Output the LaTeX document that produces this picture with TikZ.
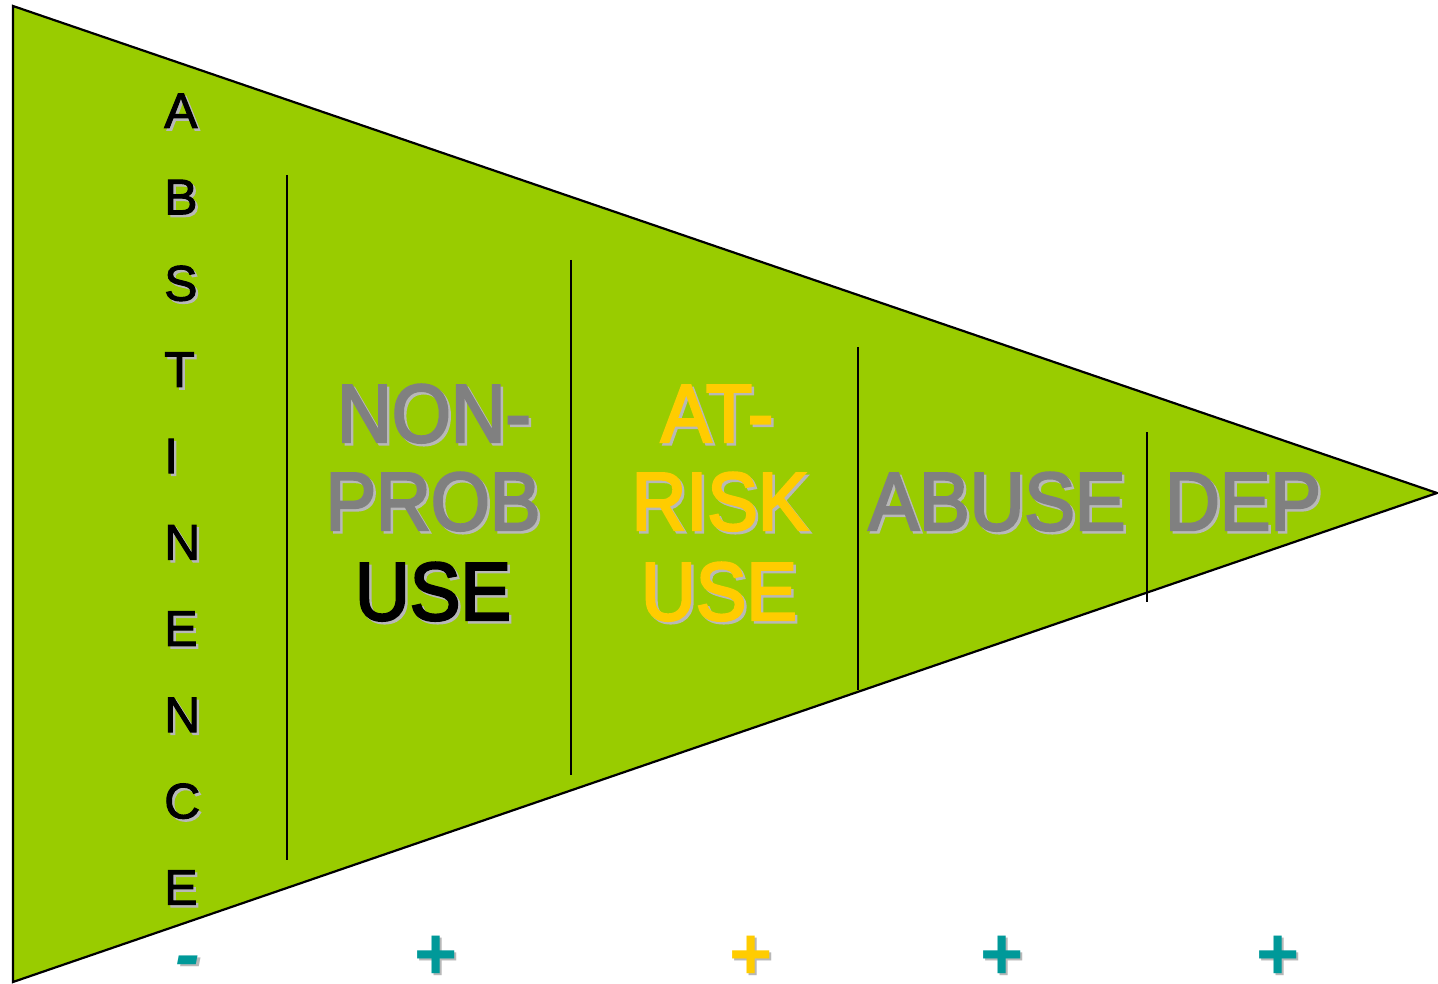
\documentclass[tikz,border=0pt]{standalone}
\usepackage{fontspec}
\usepackage{tikz}
\setmainfont{Liberation Sans}
\newfontfamily\narrowfont[FakeStretch=0.92, FakeBold=3]{Liberation Sans}
\newfontfamily\letterfont[FakeBold=2]{Liberation Sans}
\definecolor{stagegreen}{HTML}{99CC00}
\definecolor{stagegray}{HTML}{808080}
\definecolor{riskyellow}{HTML}{FFCC00}
\definecolor{signteal}{HTML}{009999}
\tikzset{
  bigword/.style={font=\narrowfont\fontsize{82.4}{90}\selectfont, anchor=base, inner sep=0pt},
  letter/.style={font=\letterfont\fontsize{50}{56}\selectfont, anchor=base west, inner sep=0pt},
  sign/.style={font=\bfseries\fontsize{74}{80}\selectfont, anchor=base, inner sep=0pt},
  divider/.style={line width=2pt}
}
\def\shadowtext[#1](#2)(#3)#4{%
  \node[#1, text=black!28, xshift=2.5pt, yshift=-2.5pt] (#3-s) at (#2) {#4};
  \node[#1] (#3) at (#2) {#4};}

\begin{document}
\begin{tikzpicture}[x=1pt, y=-1pt]
	%%%%% START %%%%%
	\useasboundingbox (0,0) rectangle (1438,984);
	
	\draw[fill=stagegreen, line width=2.2pt, line join=miter] (13,6) -- (1437,493) -- (13,982) -- cycle;
	
	\draw[divider] (287,175) -- (287,860);
	\draw[divider] (571,260) -- (571,775);
	\draw[divider] (858,347) -- (858,690);
	\draw[divider] (1147,432) -- (1147,602);
	
	\foreach \ch [count=\i from 0] in {A,B,S,T,I,N,E,N,C,E}
		\shadowtext[letter](164,{128+86.3*\i})(abs\i){\ch};
	
	\shadowtext[bigword, text=stagegray](434,442)(non){NON-};
	\shadowtext[bigword, text=stagegray](433,530)(prob){PROB};
	\shadowtext[bigword, text=black](433,620)(use){USE};
	
	\shadowtext[bigword, text=riskyellow](717,442)(at){AT-};
	\shadowtext[bigword, text=riskyellow](720,530)(risk){RISK};
	\shadowtext[bigword, text=riskyellow](719,620)(riskuse){USE};
	
	\shadowtext[bigword, text=stagegray](997,530)(abuse){ABUSE};
	\shadowtext[bigword, text=stagegray](1243,530)(dep){DEP};
	
	\shadowtext[sign, text=signteal](188,979)(minus){\itshape -};
	\shadowtext[sign, text=signteal](436,979)(plusone){+};
	\shadowtext[sign, text=riskyellow](751,979)(plustwo){+};
	\shadowtext[sign, text=signteal](1002,979)(plusthree){+};
	\shadowtext[sign, text=signteal](1278,979)(plusfour){+};
	%%%%% END %%%%%
\end{tikzpicture}
\end{document}
